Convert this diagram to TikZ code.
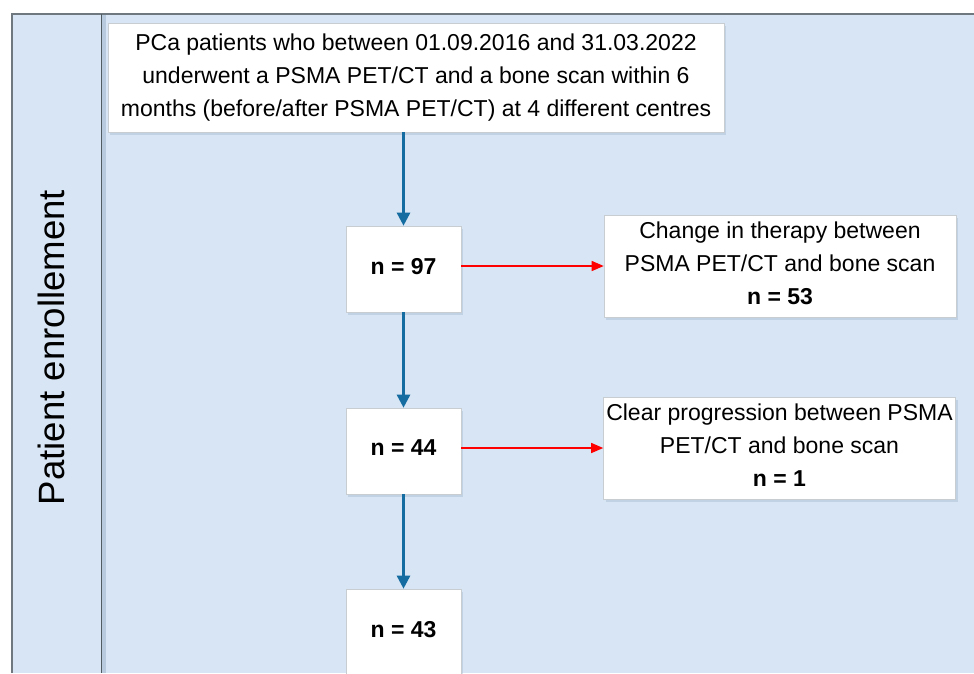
\documentclass[tikz,border=0pt]{standalone}
\usepackage{fontspec}
\setmainfont{Liberation Sans}
\usetikzlibrary{arrows.meta,shadows}
\definecolor{bgblue}{RGB}{216,229,244}
\definecolor{framegray}{RGB}{110,120,126}
\definecolor{divgray}{RGB}{80,92,98}
\definecolor{flowblue}{RGB}{20,108,160}
\definecolor{boxedge}{RGB}{200,205,210}
\definecolor{shadowcol}{RGB}{150,175,200}
\tikzset{
  box/.style={draw=boxedge, line width=0.6pt, fill=white, inner sep=0pt,
    align=center, font=\fontsize{23}{33}\selectfont,
    drop shadow={shadow xshift=2pt, shadow yshift=-3pt, opacity=0.35, fill=shadowcol}},
  countbox/.style={box, minimum width=115pt, minimum height=86pt, text depth=6pt, font=\fontsize{23}{33}\selectfont\bfseries},
  sidebox/.style={box, minimum width=352pt, minimum height=102pt, text depth=6pt},
  flow/.style={draw=flowblue, line width=2.6pt, -{Triangle[length=13pt,width=13pt]}},
  excl/.style={draw=red, line width=1.3pt, -{Triangle[length=12pt,width=10pt]}},
}
\begin{document}
\begin{tikzpicture}[x=1pt,y=-1pt]
\useasboundingbox (0,0) rectangle (974,673);
\clip (0,0) rectangle (974,673);
% background and frame
\fill[bgblue] (12,14) rectangle (974,673);
\fill[shadowcol!50!bgblue] (102,14) rectangle (106,673);
\draw[framegray, line width=1.2pt] (12,673) -- (12,14) -- (974,14);
\draw[divgray, line width=1.8pt] (101.5,14) -- (101.5,673);
\node[rotate=90, inner sep=0pt, font=\fontsize{36.6}{40}\selectfont] (lane) at (51,347.5) {Patient enrollement};
% nodes
\node[box, minimum width=616pt, minimum height=109pt] (top) at (416,77.5)
  {PCa patients who between 01.09.2016 and 31.03.2022\\underwent a PSMA PET/CT and a bone scan within 6\\months (before/after PSMA PET/CT) at 4 different centres};
\node[countbox] (n97) at (403.5,269) {n = 97};
\node[countbox] (n44) at (403.5,451) {n = 44};
\node[countbox] (n43) at (403.5,632) {n = 43};
\node[sidebox] (r1) at (780,266) {Change in therapy between\\PSMA PET/CT and bone scan\\\textbf{n = 53}};
\node[sidebox] (r2) at (779.5,448) {Clear progression between PSMA\\PET/CT and bone scan\\\textbf{n = 1}};
% connectors
\draw[flow] (n97.north |- top.south) -- (n97.north);
\draw[flow] (n97.south) -- (n44.north);
\draw[flow] (n44.south) -- (n43.north);
\draw[excl] (n97.east |- r1.west) -- (r1.west);
\draw[excl] (n44.east |- r2.west) -- (r2.west);
\end{tikzpicture}
\end{document}
